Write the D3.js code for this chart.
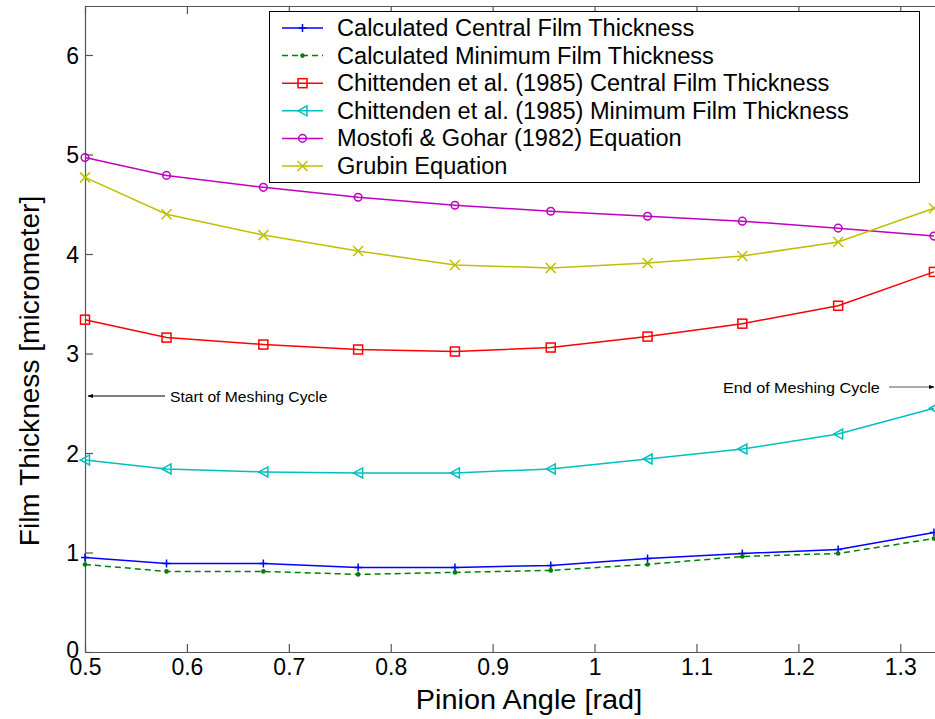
<!DOCTYPE html>
<html>
<head>
<meta charset="utf-8">
<script src="https://cdn.jsdelivr.net/npm/d3@7"></script>
<style>
  html, body { margin: 0; padding: 0; background: #fff; }
  svg { display: block; font-family: "Liberation Sans", Arial, sans-serif; }
</style>
</head>
<body>
<svg id="chart" width="935" height="719"></svg>
<script>
// ---- Data ----
const pinionAngle = [0.5, 0.580, 0.675, 0.768, 0.863, 0.957, 1.052, 1.145, 1.239, 1.333];
const calcCentral   = [0.95, 0.89, 0.89, 0.85, 0.85, 0.87, 0.94, 0.99, 1.03, 1.20];
const calcMinimum   = [0.88, 0.81, 0.81, 0.78, 0.80, 0.82, 0.88, 0.96, 0.99, 1.14];
const chittCentral  = [3.34, 3.16, 3.09, 3.04, 3.02, 3.06, 3.17, 3.30, 3.48, 3.82];
const chittMinimum  = [1.93, 1.84, 1.81, 1.80, 1.80, 1.84, 1.94, 2.04, 2.19, 2.45];
const mostofiGohar  = [4.97, 4.79, 4.67, 4.57, 4.49, 4.43, 4.38, 4.33, 4.26, 4.18];
const grubin        = [4.77, 4.40, 4.19, 4.03, 3.89, 3.86, 3.91, 3.98, 4.12, 4.46];
const seriesNames = [
  "Calculated Central Film Thickness",
  "Calculated Minimum Film Thickness",
  "Chittenden et al. (1985) Central Film Thickness",
  "Chittenden et al. (1985) Minimum Film Thickness",
  "Mostofi & Gohar (1982) Equation",
  "Grubin Equation"
];
const xTicks = [0.5, 0.6, 0.7, 0.8, 0.9, 1.0, 1.1, 1.2, 1.3];
const yTicks = [0, 1, 2, 3, 4, 5, 6];
const xLabel = "Pinion Angle [rad]";
const yLabel = "Film Thickness [micrometer]";
const startNote = "Start of Meshing Cycle";
const endNote = "End of Meshing Cycle";

const series = [
  {name: seriesNames[0], values: calcCentral,  color: "#0000ff", dash: null,  marker: "plus"},
  {name: seriesNames[1], values: calcMinimum,  color: "#008000", dash: "6,4", marker: "dot"},
  {name: seriesNames[2], values: chittCentral, color: "#ff0000", dash: null,  marker: "square"},
  {name: seriesNames[3], values: chittMinimum, color: "#00bfbf", dash: null,  marker: "triangleLeft"},
  {name: seriesNames[4], values: mostofiGohar, color: "#bf00bf", dash: null,  marker: "circle"},
  {name: seriesNames[5], values: grubin,       color: "#bfbf00", dash: null,  marker: "cross"}
];

// ---- Layout ----
const svg = d3.select("#chart");
const plotLeft = 85, plotBottom = 652, plotTop = 6;
const x = d3.scaleLinear().domain([0.5, 1.3]).range([85, 900.3]);
const y = d3.scaleLinear().domain([0, 6]).range([652, 55]);
const axisColor = "#555";

function stretch(sel, factor) {
  sel.each(function () {
    const w = this.getComputedTextLength();
    d3.select(this).attr("textLength", w * factor).attr("lengthAdjust", "spacingAndGlyphs");
  });
}

// Axes box top line
svg.append("line").attr("x1", plotLeft).attr("x2", 935).attr("y1", plotTop + 0.5).attr("y2", plotTop + 0.5)
  .attr("stroke", axisColor).attr("stroke-width", 1.2);

const gx = svg.append("g").attr("transform", `translate(0,${plotBottom})`)
  .call(d3.axisBottom(x).tickValues(xTicks).tickSizeInner(-8).tickSizeOuter(0)
        .tickPadding(9).tickFormat(d => String(+d.toFixed(1))));
gx.select(".domain").attr("d", `M${plotLeft},0.5H935`);
const gxTop = svg.append("g").attr("transform", `translate(0,${plotTop})`)
  .call(d3.axisTop(x).tickValues(xTicks).tickSizeInner(-8).tickSizeOuter(0).tickFormat(""));
gxTop.select(".domain").remove();

const gy = svg.append("g").attr("transform", `translate(${plotLeft},0)`)
  .call(d3.axisLeft(y).tickValues(yTicks).tickSizeInner(-8).tickSizeOuter(0).tickPadding(6)
        .tickFormat(d3.format("d")));
gy.select(".domain").attr("d", `M0.5,${plotBottom}V${plotTop}`);

[gx, gxTop, gy].forEach(g => {
  g.selectAll(".domain").attr("stroke", axisColor).attr("stroke-width", 1.2);
  g.selectAll(".tick line").attr("stroke", axisColor).attr("stroke-width", 1.2);
  g.selectAll(".tick text").attr("fill", "#000").attr("font-size", 23)
    .attr("font-family", "'Liberation Sans', Arial, sans-serif");
});
gx.selectAll(".tick text").attr("dy", "0.62em");
gy.selectAll(".tick text").attr("dy", d => d === 0 ? "0.22em" : "0.36em");

// Axis titles
const xt = svg.append("text").attr("x", 529).attr("y", 709).attr("text-anchor", "middle")
  .attr("font-size", 27).text(xLabel);
stretch(xt, 1.07);
const yt = svg.append("text").attr("transform", "translate(39,371) rotate(-90)")
  .attr("text-anchor", "middle").attr("font-size", 27).text(yLabel);
stretch(yt, 1.04);

// Markers
function drawMarker(g, type, cx, cy, color) {
  switch (type) {
    case "plus":
      g.append("path").attr("d", `M${cx-4},${cy}H${cx+4}M${cx},${cy-4}V${cy+4}`)
        .attr("stroke", color).attr("stroke-width", 1.5).attr("fill", "none");
      break;
    case "dot":
      g.append("circle").attr("cx", cx).attr("cy", cy).attr("r", 2.3).attr("fill", color);
      break;
    case "square":
      g.append("rect").attr("x", cx-4.5).attr("y", cy-4.5).attr("width", 9).attr("height", 9)
        .attr("fill", "none").attr("stroke", color).attr("stroke-width", 1.5);
      break;
    case "triangleLeft":
      g.append("path").attr("d", `M${cx-4.5},${cy}L${cx+4.5},${cy-5}L${cx+4.5},${cy+5}Z`)
        .attr("fill", "none").attr("stroke", color).attr("stroke-width", 1.5);
      break;
    case "circle":
      g.append("circle").attr("cx", cx).attr("cy", cy).attr("r", 3.8)
        .attr("fill", "none").attr("stroke", color).attr("stroke-width", 1.5);
      break;
    case "cross":
      g.append("path").attr("d", `M${cx-5},${cy-5}L${cx+5},${cy+5}M${cx-5},${cy+5}L${cx+5},${cy-5}`)
        .attr("stroke", color).attr("stroke-width", 1.5).attr("fill", "none");
      break;
  }
}

const line = d3.line().x((d, i) => x(pinionAngle[i])).y(d => y(d));
const plot = svg.append("g");
series.forEach(s => {
  plot.append("path").datum(s.values).attr("d", line)
    .attr("fill", "none").attr("stroke", s.color).attr("stroke-width", 1.5)
    .attr("stroke-dasharray", s.dash);
  s.values.forEach((v, i) => drawMarker(plot, s.marker, x(pinionAngle[i]), y(v), s.color));
});

// Annotations
const defs = svg.append("defs");
defs.append("marker").attr("id", "arrow").attr("viewBox", "0 0 10 10")
  .attr("refX", 9).attr("refY", 5).attr("markerWidth", 6).attr("markerHeight", 6)
  .attr("orient", "auto").append("path").attr("d", "M0,1.5L10,5L0,8.5Z").attr("fill", "#000");

svg.append("line").attr("x1", 165).attr("x2", 88).attr("y1", 396).attr("y2", 396)
  .attr("stroke", "#000").attr("stroke-width", 1).attr("marker-end", "url(#arrow)");
const st = svg.append("text").attr("x", 170).attr("y", 401.5).attr("font-size", 15.5).text(startNote);
stretch(st, 1.01);

svg.append("line").attr("x1", 889).attr("x2", 934).attr("y1", 387).attr("y2", 387)
  .attr("stroke", "#555").attr("stroke-width", 1).attr("marker-end", "url(#arrow)");
const et = svg.append("text").attr("x", 723).attr("y", 392.5).attr("font-size", 15.5).text(endNote);
stretch(et, 1.04);

// Legend
const lg = svg.append("g");
lg.append("rect").attr("x", 269.5).attr("y", 11.5).attr("width", 650).attr("height", 171)
  .attr("fill", "#fff").attr("stroke", "#000").attr("stroke-width", 1);
series.forEach((s, i) => {
  const ly = 28 + i * 27.6;
  lg.append("line").attr("x1", 282).attr("x2", 323).attr("y1", ly).attr("y2", ly)
    .attr("stroke", s.color).attr("stroke-width", 1.5).attr("stroke-dasharray", s.dash);
  drawMarker(lg, s.marker, 302.5, ly, s.color);
  const t = lg.append("text").attr("x", 337).attr("y", ly + 8).attr("font-size", 23).text(s.name);
  stretch(t, 1.025);
});
</script>
</body>
</html>
